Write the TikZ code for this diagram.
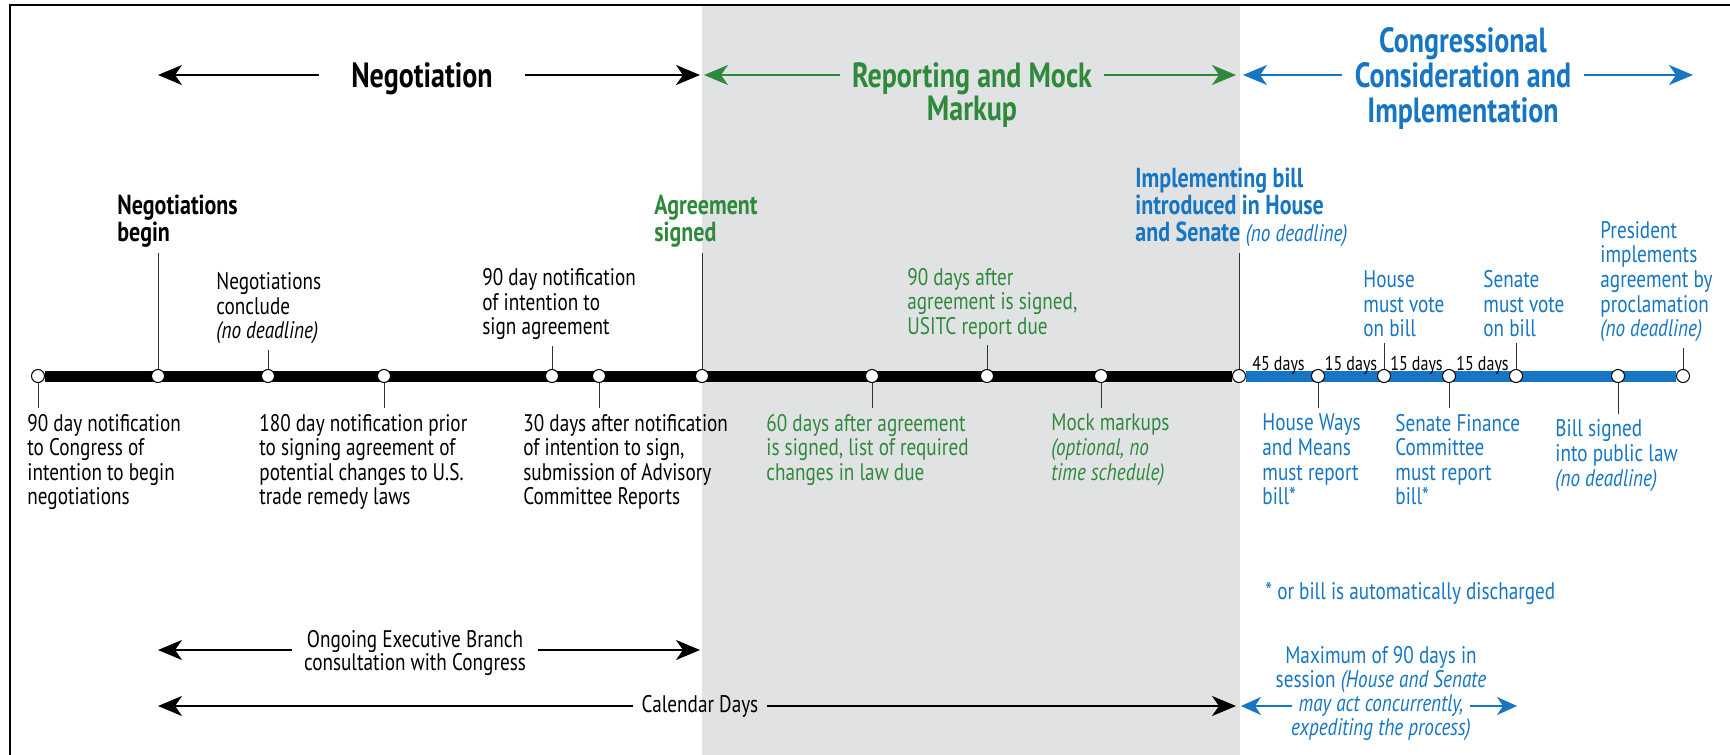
\documentclass[tikz,border=0pt]{standalone}
\usepackage{fontspec}
\setmainfont{PT Sans}[FakeStretch=0.8]
\usetikzlibrary{arrows.meta,backgrounds}
\definecolor{rgreen}{RGB}{47,137,59}
\definecolor{cblue}{RGB}{22,118,196}
\definecolor{band}{RGB}{225,226,228}

\begin{document}
\begin{tikzpicture}[x=0.5pt,y=-0.5pt,
  axis/.style={line width=5.5pt},
  dot/.style={circle,draw,fill=white,line width=0.5pt,inner sep=0pt,minimum size=6.5pt},
  stem/.style={line width=0.5pt,black!80},
  lbl/.style={align=left,inner sep=0pt,outer ysep=3pt,font=\fontsize{12}{12.3}\selectfont},
  blbl/.style={lbl,font=\fontsize{13.75}{13.5}\selectfont\bfseries},
  hdr/.style={align=center,inner ysep=0pt,inner xsep=6pt,font=\fontsize{17.5}{18}\selectfont\bfseries},
  days/.style={inner sep=0pt,font=\fontsize{10}{10}\selectfont},
  darr/.style={-{Stealth[length=12pt,width=10pt,inset=3.5pt]},line width=1.2pt},
  sarr/.style={-{Stealth[length=10pt,width=9pt,inset=3pt]},line width=1pt}]
\useasboundingbox (0,0) rectangle (1730,755);

% points on the time line
\foreach \n/\x in {a/38,b/158,c/268,d/384,e/552,f/599,g/702,h/872,i/987,j/1101,
                   k/1239,l/1318,m/1384,n/1449,o/1516,p/1618,q/1683}
  \node[dot] (\n) at (\x,376) {};

\begin{pgfonlayer}{background}
\fill[band] (702,5) rectangle (1240,755);
\draw[axis] (a) -- (k);
\draw[axis,cblue] (k) -- (q);
\end{pgfonlayer}
\draw[line width=1pt] (10,755) -- (10,5) -- (1730,5);

% phases
\node[hdr,anchor=base,inner xsep=16pt] (neg) at (422,87) {Negotiation};
\coordinate (negL) at (158,75);
\coordinate (negR) at (700,75);
\draw[darr] (neg.west |- negL) -- (negL);
\draw[darr] (neg.east |- negR) -- (negR);

\node[hdr,rgreen,anchor=base] (rep) at (972,87) {Reporting and Mock};
\node[hdr,rgreen,anchor=base] (mkp) at ([yshift=-16.5pt]rep.base) {Markup};
\coordinate (repL) at (704,75);
\coordinate (repR) at (1236,75);
\draw[darr,rgreen] (rep.west |- repL) -- (repL);
\draw[darr,rgreen] (rep.east |- repR) -- (repR);

\node[hdr,cblue,anchor=base] (con) at (1463,87) {Consideration and};
\node[hdr,cblue,anchor=base] (cgr) at ([yshift=17.5pt]con.base) {Congressional};
\node[hdr,cblue,anchor=base] (imp) at ([yshift=-17.5pt]con.base) {Implementation};
\coordinate (conL) at (1243,75);
\coordinate (conR) at (1693,75);
\draw[darr,cblue] (con.west |- conL) -- (conL);
\draw[darr,cblue] (con.east |- conR) -- (conR);

% labels above the line
\node[blbl,anchor=south west] (tb) at (117,253) {Negotiations\\begin};
\node[lbl,anchor=south west] (tc) at (216,350) {Negotiations\\conclude\\\textit{(no deadline)}};
\node[lbl,anchor=south west] (te) at (482,346) {90 day notification\\of intention to\\sign agreement};
\node[blbl,rgreen,anchor=south west] (tg) at (654,253) {Agreement\\signed};
\node[lbl,rgreen,anchor=south west] (ti) at (907,345) {90 days after\\agreement is signed,\\USITC report due};
\node[blbl,cblue,anchor=south west] (tk) at (1135,253) {Implementing bill\\introduced in House\\and Senate {\fontsize{12}{12}\selectfont\mdseries\itshape (no deadline)}};
\node[lbl,cblue,anchor=south west] (tm) at (1363,343) {House\\must vote\\on bill};
\node[lbl,cblue,anchor=south west] (to) at (1483,343) {Senate\\must vote\\on bill};
\node[lbl,cblue,anchor=south west] (tq) at (1600,348) {President\\implements\\agreement by\\proclamation\\\textit{(no deadline)}};

% labels below the line
\node[lbl,anchor=north west] (ta) at (27,408) {90 day notification\\to Congress of\\intention to begin\\negotiations};
\node[lbl,anchor=north west] (td) at (259,408) {180 day notification prior\\to signing agreement of\\potential changes to U.S.\\trade remedy laws};
\node[lbl,anchor=north west] (tf) at (523,408) {30 days after notification\\of intention to sign,\\submission of Advisory\\Committee Reports};
\node[lbl,rgreen,anchor=north west] (th) at (766,408) {60 days after agreement\\is signed, list of required\\changes in law due};
\node[lbl,rgreen,anchor=north west] (tj) at (1051,408) {Mock markups\\\textit{(optional, no}\\\textit{time schedule)}};
\node[lbl,cblue,anchor=north west] (tl) at (1262,408) {House Ways\\and Means\\must report\\bill*};
\node[lbl,cblue,anchor=north west] (tn) at (1395,408) {Senate Finance\\Committee\\must report\\bill*};
\node[lbl,cblue,anchor=north west] (tp) at (1555,414) {Bill signed\\into public law\\\textit{(no deadline)}};

\foreach \n in {b,c,e,g,i,k,m,o,q}
  \draw[stem] (\n.north) -- (\n |- t\n.south);
\foreach \n in {a,d,f,h,j,l,n,p}
  \draw[stem] (\n.south) -- (\n |- t\n.north);

% day counts
\path (k) -- node[days,anchor=base,yshift=3pt] {45 days} (l);
\path (l) -- node[days,anchor=base,yshift=3pt] {15 days} (m);
\path (m) -- node[days,anchor=base,yshift=3pt] {15 days} (n);
\path (n) -- node[days,anchor=base,yshift=3pt] {15 days} (o);

% bottom notes
\node[lbl,cblue,anchor=base west,outer ysep=0pt] (fn) at (1265,599) {* or bill is automatically discharged};

\node[lbl,align=center,outer ysep=0pt,inner xsep=6pt,font=\fontsize{12}{11.5}\selectfont] (ong) at (415,653) {Ongoing Executive Branch\\consultation with Congress};
\coordinate (ongL) at (158,650);
\coordinate (ongR) at (700,650);
\draw[darr,line width=1pt] (ong.west |- ongL) -- (ongL);
\draw[darr,line width=1pt] (ong.east |- ongR) -- (ongR);

\node[lbl,outer ysep=0pt,inner xsep=4pt] (cal) at (700,706) {Calendar Days};
\coordinate (calL) at (158,706);
\coordinate (calR) at (1236,706);
\draw[darr,line width=1pt] (cal.west) -- (calL);
\draw[darr,line width=1pt] (cal.east) -- (calR);

\node[lbl,cblue,outer ysep=0pt,inner xsep=3pt] (may) at (1381,706) {\textit{may act concurrently,}};
\node[lbl,cblue,align=center,outer ysep=0pt,anchor=south] (max) at ([yshift=1pt]may.north) {Maximum of 90 days in\\session \textit{(House and Senate}};
\node[lbl,cblue,align=center,outer ysep=0pt,anchor=north] (exp) at ([yshift=-1pt]may.south) {\textit{expediting the process)}};
\coordinate (mayL) at (1241,706);
\coordinate (mayR) at (1517,706);
\draw[sarr,cblue] (may.west) -- (mayL);
\draw[sarr,cblue] (may.east) -- (mayR);
\end{tikzpicture}
\end{document}
